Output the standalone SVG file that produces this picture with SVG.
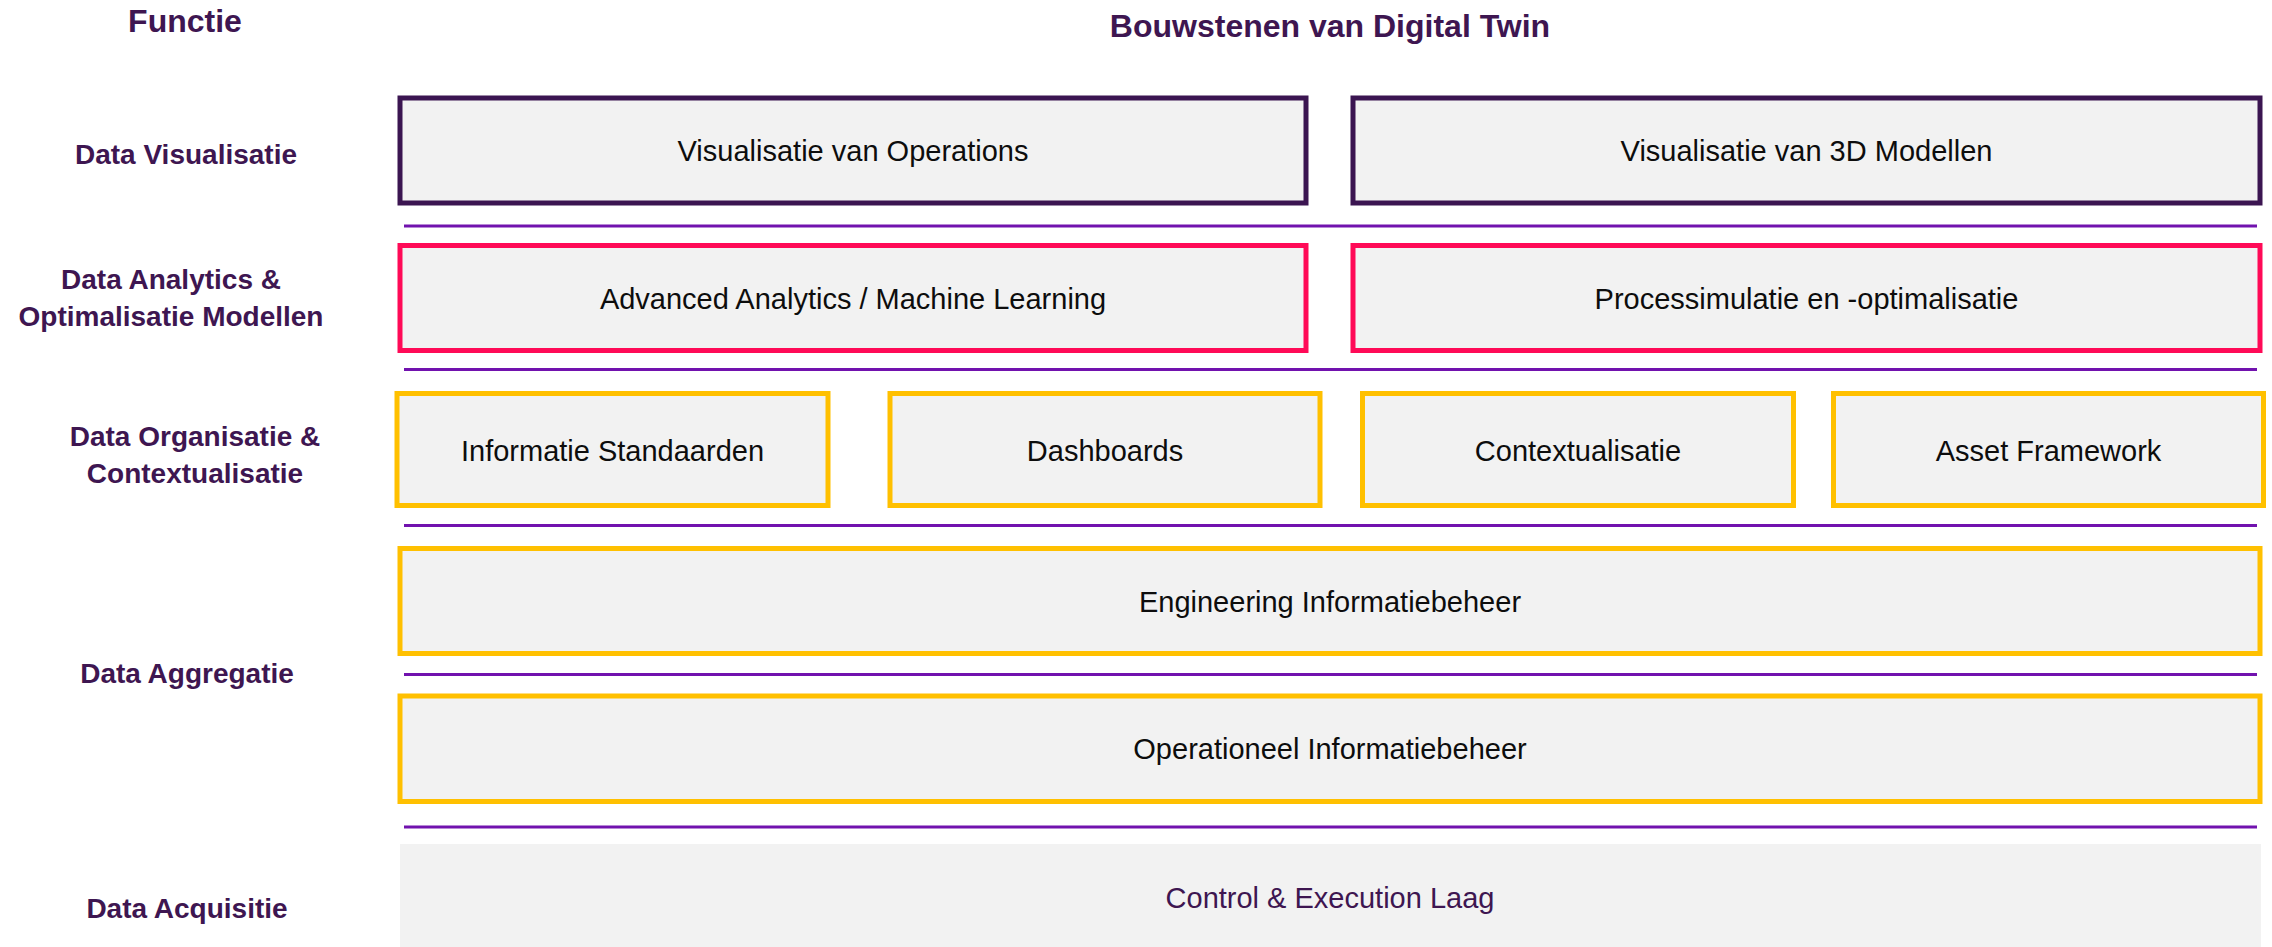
<svg xmlns="http://www.w3.org/2000/svg" width="2272" height="947" viewBox="0 0 2272 947">
<style>
.hdr{font-family:"Liberation Sans",Arial,sans-serif;font-weight:bold;font-size:32px;fill:#3E1651;text-anchor:middle}
.lbl{font-family:"Liberation Sans",Arial,sans-serif;font-weight:bold;font-size:28px;fill:#3E1651;text-anchor:middle}
.txt{font-family:"Liberation Sans",Arial,sans-serif;font-size:29px;fill:#0D0D0D;text-anchor:middle}
.ctl{font-family:"Liberation Sans",Arial,sans-serif;font-size:29px;fill:#3E1651;text-anchor:middle}
.box{fill:#F2F2F2;stroke-width:5}
.vis{stroke:#3B1551}
.ana{stroke:#FF0A57}
.org{stroke:#FFC000}
.sep{stroke:#7112AE;stroke-width:3;fill:none}
</style>
<rect width="2272" height="947" fill="#FFFFFF"/>
<g id="headers">
<text class="hdr" x="185" y="32">Functie</text>
<text class="hdr" x="1330" y="37">Bouwstenen van Digital Twin</text>
</g>
<g id="labels">
<text class="lbl" x="186" y="164">Data Visualisatie</text>
<text class="lbl" x="171" y="289">Data Analytics &amp;</text>
<text class="lbl" x="171" y="326">Optimalisatie Modellen</text>
<text class="lbl" x="195" y="446">Data Organisatie &amp;</text>
<text class="lbl" x="195" y="483">Contextualisatie</text>
<text class="lbl" x="187" y="683">Data Aggregatie</text>
<text class="lbl" x="187" y="918">Data Acquisitie</text>
</g>
<g id="connectors">
<line class="sep" x1="404" y1="226" x2="2257" y2="226"/>
<line class="sep" x1="404" y1="369.5" x2="2257" y2="369.5"/>
<line class="sep" x1="404" y1="525.5" x2="2257" y2="525.5"/>
<line class="sep" x1="404" y1="674.5" x2="2257" y2="674.5"/>
<line class="sep" x1="404" y1="827" x2="2257" y2="827"/>
</g>
<g id="vis-operations">
<rect class="box vis" x="400" y="98" width="906" height="105"/>
<text class="txt" x="853" y="161">Visualisatie van Operations</text>
</g>
<g id="vis-3d">
<rect class="box vis" x="1353" y="98" width="907" height="105"/>
<text class="txt" x="1806.5" y="161">Visualisatie van 3D Modellen</text>
</g>
<g id="advanced-analytics">
<rect class="box ana" x="400" y="245.5" width="906" height="105"/>
<text class="txt" x="853" y="309">Advanced Analytics / Machine Learning</text>
</g>
<g id="processimulatie">
<rect class="box ana" x="1353" y="245.5" width="907" height="105"/>
<text class="txt" x="1806.5" y="309">Processimulatie en -optimalisatie</text>
</g>
<g id="informatie-standaarden">
<rect class="box org" x="397" y="393.5" width="431" height="112"/>
<text class="txt" x="612.5" y="460.5">Informatie Standaarden</text>
</g>
<g id="dashboards">
<rect class="box org" x="890" y="393.5" width="430" height="112"/>
<text class="txt" x="1105" y="460.5">Dashboards</text>
</g>
<g id="contextualisatie">
<rect class="box org" x="1362.5" y="393.5" width="431" height="112"/>
<text class="txt" x="1578" y="460.5">Contextualisatie</text>
</g>
<g id="asset-framework">
<rect class="box org" x="1833.5" y="393.5" width="430" height="112"/>
<text class="txt" x="2048.5" y="460.5">Asset Framework</text>
</g>
<g id="engineering">
<rect class="box org" x="400" y="548.5" width="1860" height="105"/>
<text class="txt" x="1330" y="611.5">Engineering Informatiebeheer</text>
</g>
<g id="operationeel">
<rect class="box org" x="400" y="696" width="1860" height="105.5"/>
<text class="txt" x="1330" y="759">Operationeel Informatiebeheer</text>
</g>
<g id="control-execution">
<rect x="400" y="844" width="1861" height="103" fill="#F2F2F2"/>
<text class="ctl" x="1330" y="908">Control &amp; Execution Laag</text>
</g>
</svg>
